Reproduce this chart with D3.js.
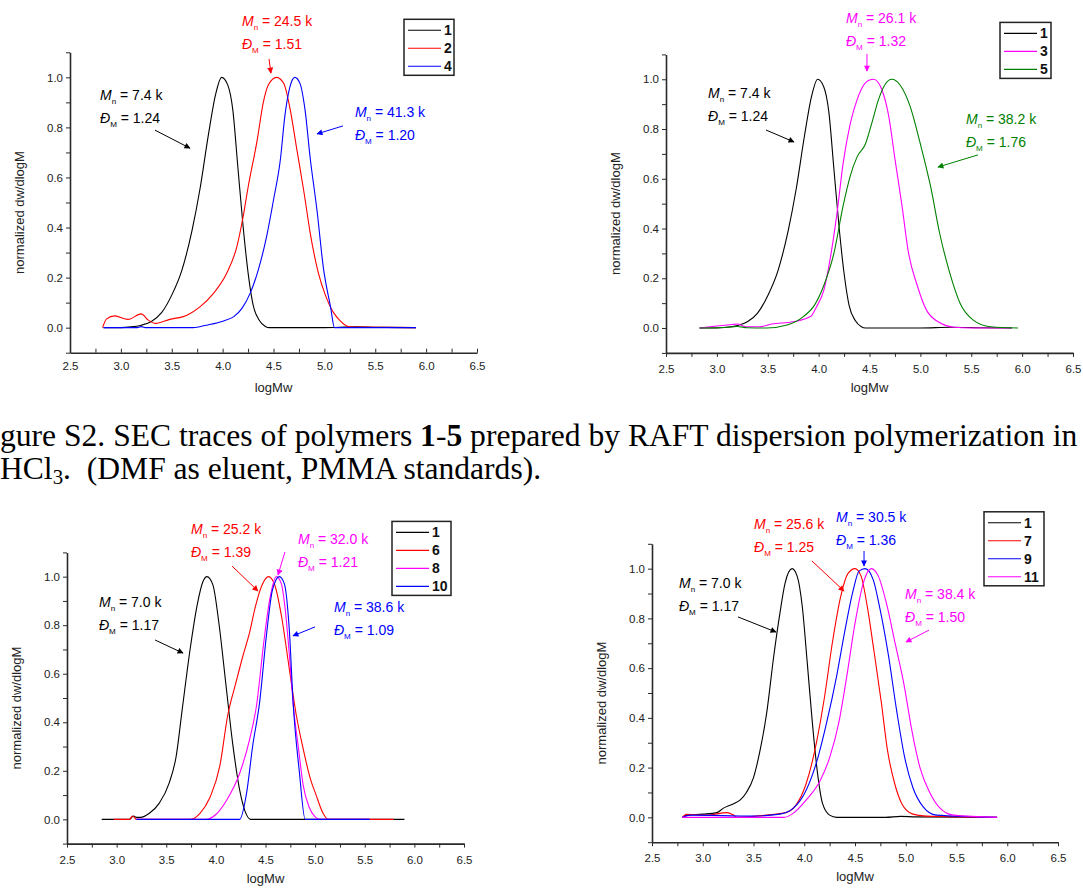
<!DOCTYPE html>
<html>
<head>
<meta charset="utf-8">
<script src="https://cdn.jsdelivr.net/npm/d3@7"></script>
<style>
  body { margin: 0; background: #fff; }
  svg { display: block; font-family: Arial, "Liberation Sans", sans-serif; }
</style>
</head>
<body>
<svg id="fig" width="1083" height="888"></svg>
<script>
// ---------------- SEC traces (logMw vs normalized dw/dlogM) ----------------
// polymer 1 (Mn 7.4 k), used in the two upper plots
const trace1aLogM = [2.83, 3.0, 3.1, 3.2, 3.3, 3.4, 3.5, 3.6, 3.7, 3.78, 3.86, 3.93, 3.99, 4.05, 4.1, 4.15, 4.2, 4.25, 4.3, 4.36, 4.42, 4.46, 5.0, 5.3, 5.6, 5.9];
const trace1aW    = [0, 0, 0.003, 0.01, 0.025, 0.06, 0.13, 0.23, 0.39, 0.56, 0.77, 0.93, 1.0, 0.97, 0.87, 0.64, 0.41, 0.22, 0.09, 0.03, 0.005, 0, 0, 0.003, 0.001, 0];

// polymer 2
const trace2LogM = [2.82, 2.86, 2.94, 3.07, 3.2, 3.27, 3.34, 3.48, 3.65, 3.78, 3.91, 4.04, 4.14, 4.2, 4.25, 4.34, 4.4, 4.45, 4.53, 4.6, 4.66, 4.73, 4.8, 4.86, 4.94, 5.01, 5.09, 5.15, 5.22, 5.3, 5.9];
const trace2W    = [0, 0.035, 0.047, 0.033, 0.055, 0.03, 0.017, 0.033, 0.05, 0.084, 0.137, 0.217, 0.324, 0.44, 0.56, 0.75, 0.9, 0.97, 1.0, 0.976, 0.88, 0.71, 0.54, 0.38, 0.22, 0.13, 0.06, 0.03, 0.007, 0.002, 0];

// polymer 4
const trace4LogM = [2.83, 3.15, 3.2, 3.25, 3.71, 3.84, 4.01, 4.11, 4.19, 4.27, 4.35, 4.43, 4.5, 4.57, 4.61, 4.66, 4.71, 4.76, 4.81, 4.86, 4.93, 4.99, 5.06, 5.1, 5.9];
const trace4W    = [0, 0, 0.004, 0, 0, 0.01, 0.027, 0.044, 0.077, 0.137, 0.23, 0.36, 0.51, 0.68, 0.84, 0.96, 1.0, 0.976, 0.87, 0.68, 0.46, 0.24, 0.084, 0, 0];

// polymer 3
const trace3LogM = [2.83, 3.0, 3.15, 3.2, 3.29, 3.42, 3.54, 3.75, 3.92, 3.98, 4.05, 4.11, 4.18, 4.24, 4.31, 4.38, 4.44, 4.49, 4.54, 4.58, 4.62, 4.69, 4.75, 4.82, 4.88, 4.97, 5.06, 5.2, 5.33, 5.5, 5.9];
const trace3W    = [0, 0.008, 0.014, 0.016, 0.005, 0.005, 0.016, 0.025, 0.046, 0.086, 0.15, 0.27, 0.46, 0.66, 0.82, 0.92, 0.975, 0.995, 1.0, 0.99, 0.96, 0.85, 0.68, 0.49, 0.31, 0.17, 0.072, 0.019, 0.003, 0, 0];

// polymer 5
const trace5LogM = [2.83, 3.1, 3.2, 3.3, 3.49, 3.69, 3.85, 3.95, 4.05, 4.15, 4.24, 4.31, 4.38, 4.46, 4.52, 4.59, 4.65, 4.72, 4.8, 4.9, 5.0, 5.1, 5.19, 5.29, 5.39, 5.52, 5.69, 5.96];
const trace5W    = [0, 0.003, 0.006, 0.001, 0, 0.012, 0.046, 0.086, 0.17, 0.3, 0.49, 0.61, 0.69, 0.74, 0.82, 0.92, 0.977, 1.0, 0.977, 0.89, 0.74, 0.57, 0.38, 0.22, 0.1, 0.032, 0.005, 0];

// polymer 1 (Mn 7.0 k), lower-left plot
const trace1bLogM = [2.85, 3.13, 3.17, 3.2, 3.24, 3.33, 3.43, 3.53, 3.6, 3.66, 3.74, 3.81, 3.87, 3.91, 3.97, 4.03, 4.1, 4.17, 4.24, 4.29, 4.35, 5.9];
const trace1bW    = [0, 0, 0.014, 0.008, 0.008, 0.025, 0.067, 0.15, 0.26, 0.45, 0.7, 0.88, 0.98, 1.0, 0.966, 0.81, 0.56, 0.31, 0.12, 0.038, 0, 0];

// polymer 6
const trace6LogM = [2.97, 3.13, 3.16, 3.2, 3.74, 3.84, 3.94, 4.04, 4.12, 4.2, 4.27, 4.34, 4.4, 4.47, 4.53, 4.59, 4.66, 4.74, 4.81, 4.88, 4.95, 5.01, 5.08, 5.13, 5.79];
const trace6W    = [0, 0, 0.014, 0, 0, 0.025, 0.09, 0.22, 0.43, 0.56, 0.67, 0.77, 0.88, 0.97, 1.0, 0.97, 0.84, 0.62, 0.43, 0.29, 0.17, 0.1, 0.025, 0, 0];

// polymer 8
const trace8LogM = [3.2, 3.9, 4.0, 4.11, 4.24, 4.34, 4.41, 4.48, 4.54, 4.61, 4.66, 4.7, 4.74, 4.78, 4.83, 4.88, 4.94, 5.0, 5.05, 5.55];
const trace8W    = [0, 0, 0.02, 0.08, 0.19, 0.33, 0.47, 0.72, 0.9, 1.0, 0.97, 0.86, 0.68, 0.47, 0.3, 0.14, 0.05, 0.01, 0, 0];

// polymer 10
const trace10LogM = [3.2, 4.24, 4.31, 4.37, 4.44, 4.51, 4.57, 4.64, 4.69, 4.74, 4.78, 4.84, 4.9, 5.55];
const trace10W    = [0, 0, 0.11, 0.3, 0.48, 0.76, 0.945, 1.0, 0.97, 0.78, 0.47, 0.2, 0, 0];

// polymer 1 (Mn 7.0 k), lower-right plot
const trace1cLogM = [2.8, 2.84, 3.0, 3.14, 3.2, 3.3, 3.37, 3.43, 3.5, 3.56, 3.63, 3.7, 3.76, 3.81, 3.88, 3.93, 3.98, 4.03, 4.08, 4.13, 4.18, 4.25, 4.32, 4.8, 4.95, 5.1, 5.9];
const trace1cW    = [0, 0.009, 0.013, 0.019, 0.036, 0.054, 0.07, 0.1, 0.16, 0.26, 0.42, 0.65, 0.82, 0.94, 1.0, 0.97, 0.85, 0.62, 0.38, 0.18, 0.056, 0.009, 0, 0, 0.004, 0.002, 0];

// polymer 7
const trace7LogM = [2.8, 2.84, 3.04, 3.24, 3.3, 3.34, 3.63, 3.82, 3.92, 4.02, 4.12, 4.2, 4.28, 4.36, 4.43, 4.5, 4.56, 4.62, 4.69, 4.76, 4.82, 4.89, 4.96, 5.07, 5.2, 5.4, 5.9];
const trace7W    = [0, 0.012, 0.009, 0.019, 0.01, 0, 0.009, 0.019, 0.05, 0.137, 0.3, 0.485, 0.71, 0.89, 0.98, 1.0, 0.97, 0.85, 0.66, 0.46, 0.27, 0.137, 0.056, 0.013, 0.005, 0.003, 0];

// polymer 9
const trace9LogM = [2.8, 2.88, 3.5, 3.76, 3.89, 4.02, 4.12, 4.22, 4.32, 4.4, 4.48, 4.54, 4.6, 4.68, 4.74, 4.83, 4.91, 4.99, 5.07, 5.17, 5.3, 5.9];
const trace9W    = [0, 0.009, 0.005, 0.013, 0.036, 0.11, 0.22, 0.38, 0.57, 0.75, 0.91, 0.99, 1.0, 0.955, 0.85, 0.65, 0.43, 0.24, 0.12, 0.043, 0.009, 0];

// polymer 11
const trace11LogM = [2.8, 3.8, 3.89, 4.02, 4.16, 4.25, 4.34, 4.42, 4.5, 4.58, 4.66, 4.73, 4.81, 4.89, 4.98, 5.06, 5.14, 5.24, 5.34, 5.47, 5.9];
const trace11W    = [0, 0, 0.016, 0.07, 0.15, 0.24, 0.38, 0.57, 0.78, 0.94, 1.0, 0.97, 0.86, 0.71, 0.54, 0.35, 0.2, 0.097, 0.036, 0.009, 0];

// ---------------- labels ----------------
const xTickLabels = ["2.5", "3.0", "3.5", "4.0", "4.5", "5.0", "5.5", "6.0", "6.5"];
const yTickLabels = ["0.0", "0.2", "0.4", "0.6", "0.8", "1.0"];

// legend entries, Mn (k) and dispersity per plot
const namesA = ["1", "2", "4"];   const mnA = ["7.4", "24.5", "41.3"]; const dispA = ["1.24", "1.51", "1.20"];
const namesB = ["1", "3", "5"];   const mnB = ["7.4", "26.1", "38.2"]; const dispB = ["1.24", "1.32", "1.76"];
const namesC = ["1", "6", "8", "10"]; const mnC = ["7.0", "25.2", "32.0", "38.6"]; const dispC = ["1.17", "1.39", "1.21", "1.09"];
const namesD = ["1", "7", "9", "11"]; const mnD = ["7.0", "25.6", "30.5", "38.4"]; const dispD = ["1.17", "1.25", "1.36", "1.50"];

// ---------------- layout ----------------
const BLACK = "#000000", RED = "#ff0000", BLUE = "#0000ff", MAGENTA = "#ff00ff", GREEN = "#008000";

// note: text anchor [logM, w] and arrow [from logM, from w, to logM, to w], in data units
const panels = [
  {
    left: 70, right: 477, top: 52.3, bottom: 352.7, ticksIn: true, padX: 9,
    traces: [[trace1aLogM, trace1aW], [trace2LogM, trace2W], [trace4LogM, trace4W]],
    colors: [BLACK, RED, BLUE], names: namesA, mn: mnA, disp: dispA,
    notes: [
      { t: [2.795, 0.909], a: [3.335, 0.789, 3.679, 0.717] },
      { t: [4.19, 1.205],  a: [4.456, 1.073, 4.475, 1.017] },
      { t: [5.30, 0.841],  a: [5.183, 0.806, 4.928, 0.774] }
    ],
    legend: { dx: 73, dy: 33, w: 50 }
  },
  {
    left: 666, right: 1073, top: 54.4, bottom: 352.9, ticksIn: false, padX: 8,
    traces: [[trace1aLogM, trace1aW], [trace3LogM, trace3W], [trace5LogM, trace5W]],
    colors: [BLACK, MAGENTA, GREEN], names: namesB, mn: mnB, disp: dispB,
    notes: [
      { t: [2.913, 0.925], a: [3.483, 0.796, 3.758, 0.748] },
      { t: [4.269, 1.226], a: [4.475, 1.102, 4.475, 1.033] },
      { t: [5.448, 0.82],  a: [5.566, 0.696, 5.173, 0.647] }
    ],
    legend: { dx: 73, dy: 32, w: 51 }
  },
  {
    left: 67, right: 464, top: 552.4, bottom: 843.6, ticksIn: false, padX: 8,
    traces: [[trace1bLogM, trace1bW], [trace6LogM, trace6W], [trace8LogM, trace8W], [trace10LogM, trace10W]],
    colors: [BLACK, RED, MAGENTA, BLUE], names: namesC, mn: mnC, disp: dispC,
    notes: [
      { t: [2.822, 0.875], a: [3.387, 0.739, 3.669, 0.685] },
      { t: [3.749, 1.176], a: [4.162, 1.044, 4.424, 0.941] },
      { t: [4.827, 1.135], a: [4.696, 1.102, 4.626, 1.007] },
      { t: [5.19, 0.854],  a: [4.999, 0.793, 4.777, 0.756] }
    ],
    legend: { dx: 72, dy: 31, w: 59 }
  },
  {
    left: 652, right: 1058, top: 543.8, bottom: 842.2, ticksIn: false, padX: 8,
    traces: [[trace1cLogM, trace1cW], [trace7LogM, trace7W], [trace9LogM, trace9W], [trace11LogM, trace11W]],
    colors: [BLACK, RED, BLUE, MAGENTA], names: namesD, mn: mnD, disp: dispD,
    notes: [
      { t: [2.766, 0.922], a: [3.347, 0.806, 3.722, 0.745] },
      { t: [3.505, 1.16],  a: [4.076, 1.031, 4.392, 0.91] },
      { t: [4.313, 1.188], a: [4.589, 1.071, 4.589, 1.011] },
      { t: [4.993, 0.878], a: [5.229, 0.753, 5.002, 0.705] }
    ],
    legend: { dx: 74, dy: 32, w: 60 }
  }
];

const svg = d3.select("#fig");

// arrowheads, one per colour
const defs = svg.append("defs");
[BLACK, RED, BLUE, MAGENTA, GREEN].forEach(c => {
  defs.append("marker")
    .attr("id", "head" + c.slice(1))
    .attr("viewBox", "0 0 10 10")
    .attr("refX", 9).attr("refY", 5)
    .attr("markerUnits", "userSpaceOnUse")
    .attr("markerWidth", 8).attr("markerHeight", 6)
    .attr("orient", "auto")
    .append("path").attr("d", "M0,0 L10,5 L0,10 Z").attr("fill", c);
});

function drawPanel(p) {
  const x = d3.scaleLinear().domain([2.5, 6.5]).range([p.left, p.right]);
  const y = d3.scaleLinear().domain([-0.1, 1.1]).range([p.bottom, p.top]);
  const g = svg.append("g");

  // x axis: ticks every 0.25, labels every 0.5
  const xVals = d3.range(0, 17).map(i => 2.5 + i * 0.25);
  const xAxis = d3.axisBottom(x)
    .tickValues(xVals)
    .tickSizeInner(p.ticksIn ? -4 : 4)
    .tickSizeOuter(0)
    .tickPadding(p.padX)
    .tickFormat((v, i) => i % 2 === 0 ? xTickLabels[i / 2] : "");
  const gx = g.append("g").attr("transform", `translate(0,${p.bottom})`).call(xAxis);

  // y axis: ticks every 0.1, labels every 0.2
  const yVals = d3.range(-1, 12).map(i => i / 10);
  const yAxis = d3.axisLeft(y)
    .tickValues(yVals)
    .tickSizeInner(4)
    .tickSizeOuter(0)
    .tickPadding(3)
    .tickFormat((v, i) => {
      const k = i - 1;
      return (k >= 0 && k % 2 === 0 && k / 2 < yTickLabels.length) ? yTickLabels[k / 2] : "";
    });
  const gy = g.append("g").attr("transform", `translate(${p.left},0)`).call(yAxis);

  [gx, gy].forEach(a => {
    a.select(".domain").attr("stroke", "#2a2a2a").attr("stroke-width", 1.6);
    a.selectAll(".tick line").attr("stroke", "#2a2a2a").attr("stroke-width", 1);
    a.selectAll(".tick text").attr("font-size", 11.5).attr("fill", "#222")
      .attr("font-family", "Arial, 'Liberation Sans', sans-serif");
  });

  // axis titles
  g.append("text")
    .attr("x", (p.left + p.right) / 2).attr("y", p.bottom + 39)
    .attr("text-anchor", "middle").attr("font-size", 13).attr("fill", "#222")
    .text("logMw");
  const cy = (p.top + p.bottom) / 2 + 10;
  g.append("text")
    .attr("transform", `translate(${p.left - 51},${cy}) rotate(-90)`)
    .attr("text-anchor", "middle").attr("dy", "0.35em")
    .attr("font-size", 13).attr("fill", "#222")
    .text("normalized dw/dlogM");

  // traces
  const line = d3.line().x(d => x(d[0])).y(d => y(d[1])).curve(d3.curveMonotoneX);
  p.traces.forEach((t, i) => {
    const pts = t[0].map((v, j) => [v, t[1][j]]);
    g.append("path").datum(pts)
      .attr("d", line)
      .attr("fill", "none")
      .attr("stroke", p.colors[i])
      .attr("stroke-width", 1.1);
  });

  // Mn / dispersity notes with arrows
  p.notes.forEach((n, i) => {
    const c = p.colors[i];
    const tx = x(n.t[0]), ty = y(n.t[1]);
    const t1 = g.append("text").attr("x", tx).attr("y", ty)
      .attr("font-size", 14).attr("fill", c);
    t1.append("tspan").attr("font-style", "italic").text("M");
    t1.append("tspan").attr("font-size", 8).attr("dy", 4).text("n");
    t1.append("tspan").attr("dy", -4).text(" = " + p.mn[i] + " k");

    const t2 = g.append("text").attr("x", tx).attr("y", ty + 23)
      .attr("font-size", 14).attr("fill", c);
    t2.append("tspan").attr("font-style", "italic").text("Đ");
    t2.append("tspan").attr("font-size", 8).attr("dy", 4).text("M");
    t2.append("tspan").attr("dy", -4).text(" = " + p.disp[i]);

    g.append("line")
      .attr("x1", x(n.a[0])).attr("y1", y(n.a[1]))
      .attr("x2", x(n.a[2])).attr("y2", y(n.a[3]))
      .attr("stroke", c).attr("stroke-width", 1)
      .attr("marker-end", `url(#head${c.slice(1)})`);
  });

  // legend
  const lx = p.right - p.legend.dx, ly = p.top - p.legend.dy;
  const rows = p.names.length;
  g.append("rect")
    .attr("x", lx).attr("y", ly)
    .attr("width", p.legend.w).attr("height", 11 + (rows - 1) * 18 + 9)
    .attr("fill", "#fff").attr("stroke", "#222").attr("stroke-width", 1.5);
  p.names.forEach((nm, i) => {
    const ry = ly + 11 + i * 18;
    g.append("line")
      .attr("x1", lx + 4).attr("x2", lx + 37).attr("y1", ry).attr("y2", ry)
      .attr("stroke", p.colors[i]).attr("stroke-width", 1.1);
    g.append("text")
      .attr("x", lx + 40).attr("y", ry).attr("dy", "0.36em")
      .attr("font-size", 14).attr("font-weight", "bold").attr("fill", "#111")
      .text(nm);
  });
}

panels.forEach(drawPanel);

// ---------------- caption ----------------
const serif = "'Liberation Serif', 'Times New Roman', serif";
const cap1 = svg.append("text").attr("font-family", serif).attr("font-size", 26)
  .attr("y", 446).attr("fill", "#000");
cap1.append("tspan").text("Figure S2. SEC traces of polymers ");
cap1.append("tspan").attr("font-weight", "bold").text("1");
cap1.append("tspan").text("-");
cap1.append("tspan").attr("font-weight", "bold").text("5");
cap1.append("tspan").text(" prepared by RAFT dispersion polymerization in");

// size the caption so that it runs across the page width
let full = cap1.node().getComputedTextLength();
let pre = cap1.node().getSubStringLength(0, 2);
const fs = 26 * 1078 / (full - pre);
cap1.attr("font-size", fs);
pre = cap1.node().getSubStringLength(0, 2);
cap1.attr("x", -pre);

const cap2 = svg.append("text").attr("font-family", serif).attr("font-size", fs)
  .attr("y", 479).attr("fill", "#000").style("white-space", "pre");
cap2.append("tspan").text("CHCl");
cap2.append("tspan").attr("font-size", fs * 0.66).attr("dy", 5).text("3");
cap2.append("tspan").attr("dy", -5).text(".  (DMF as eluent, PMMA standards).");
const preC = cap2.node().getSubStringLength(0, 1);
cap2.attr("x", -preC);
</script>
</body>
</html>
